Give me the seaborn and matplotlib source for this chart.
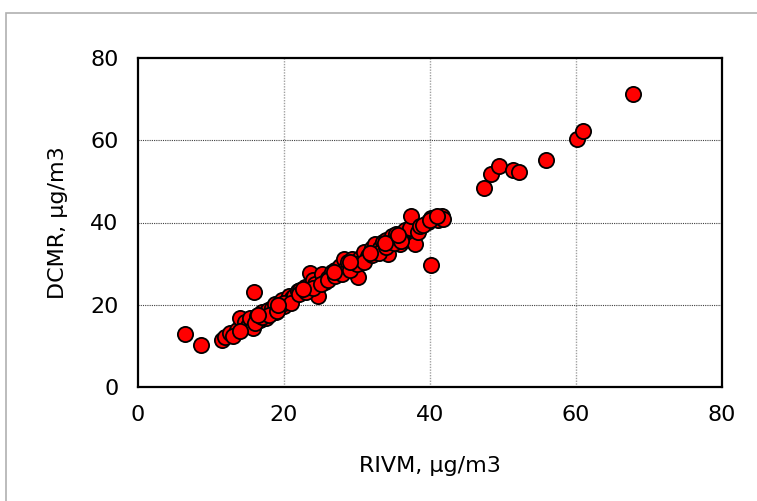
import matplotlib
matplotlib.use("Agg")
import matplotlib.pyplot as plt
from matplotlib.patches import Rectangle
import seaborn as sns
import pandas as pd

# RIVM vs DCMR readings (ug/m3)
rivm = [
    6.5, 8.6, 15.9, 40.1,
    11.5, 11.9, 12.6, 13.6, 14.0, 14.7, 15.1, 15.3, 15.8, 16.3, 16.7, 17.0,
    17.5, 17.8, 18.1, 18.4, 18.8, 18.9, 19.5, 19.7, 20.0, 20.4, 20.7, 21.1,
    21.4, 21.9, 22.2, 22.9, 23.6, 24.0, 24.2, 24.7, 25.2, 25.6, 26.0, 26.6,
    27.0, 27.7, 28.2, 28.5, 28.8, 29.3, 29.7, 30.2, 30.4, 31.0, 31.5, 32.1,
    32.5, 33.2, 33.6, 34.0, 34.2, 34.8, 35.3, 35.9, 36.2, 36.6, 37.3, 37.4,
    37.9, 38.4, 38.6, 39.7, 40.2, 41.1, 41.6, 41.8,
    13.0, 14.0, 16.0, 17.0, 18.0, 19.0, 20.0, 21.0, 22.0, 23.0, 24.0, 25.0,
    26.0, 27.0, 28.0, 29.0, 30.0, 31.0, 32.0, 33.0, 34.0, 35.0, 36.0, 39.0,
    40.0, 41.0,
    16.5, 19.2, 22.6, 26.8, 29.0, 31.8, 33.9, 35.6,
    47.4, 48.3, 49.4, 51.4, 52.2, 55.9, 60.2, 60.9, 67.8,
]
dcmr = [
    12.9, 10.2, 23.1, 29.6,
    11.4, 12.2, 13.1, 13.9, 16.8, 15.8, 14.8, 16.8, 14.3, 17.3, 16.3, 18.2,
    16.8, 18.7, 17.8, 19.2, 20.2, 18.2, 20.4, 21.2, 19.7, 20.9, 22.1, 21.6,
    22.1, 23.3, 23.6, 24.3, 27.7, 26.0, 25.0, 22.1, 27.5, 25.5, 26.5, 28.0,
    28.5, 29.4, 31.1, 28.9, 30.4, 31.1, 29.4, 26.8, 31.4, 32.8, 31.9, 33.8,
    34.8, 33.8, 35.3, 35.7, 32.3, 36.7, 37.2, 34.8, 36.7, 38.2, 38.7, 41.6,
    34.8, 37.7, 39.1, 40.1, 41.1, 40.6, 41.6, 40.8,
    12.5, 13.5, 15.5, 17.0, 17.5, 18.5, 20.5, 20.5, 22.5, 23.0, 24.0, 25.0,
    26.0, 27.0, 27.5, 28.5, 30.0, 30.5, 32.0, 32.5, 34.0, 35.0, 35.5, 39.5,
    40.5, 41.5,
    17.5, 20.0, 23.8, 27.9, 30.3, 32.6, 34.9, 36.9,
    48.3, 51.7, 53.8, 52.8, 52.4, 55.2, 60.2, 62.2, 71.2,
]
ticks = [0, 20, 40, 60, 80]

df = pd.DataFrame({"RIVM": rivm, "DCMR": dcmr})

sns.set_style("white")
plt.rcParams["font.family"] = ["DejaVu Sans"]
plt.rcParams["text.color"] = "black"
plt.rcParams["axes.labelcolor"] = "black"
plt.rcParams["xtick.color"] = "#808080"
plt.rcParams["ytick.color"] = "#808080"
plt.rcParams["xtick.labelcolor"] = "black"
plt.rcParams["ytick.labelcolor"] = "black"

fig = plt.figure(figsize=(7.57, 5.01), dpi=100)
ax = fig.add_axes([138 / 757, 1 - 387 / 501, (722 - 138) / 757, (387 - 58) / 501])

# outer chart frame (only left/top edges are inside the picture)
fig.add_artist(Rectangle((6 / 757, -0.1), 1.2, 1.1 - 12.5 / 501,
                         transform=fig.transFigure, fill=False,
                         edgecolor="#b0b0b0", linewidth=1.2))

sns.scatterplot(data=df, x="RIVM", y="DCMR", ax=ax, s=120, color="#ff0000",
                edgecolor="black", linewidth=1.3, zorder=3)

ax.set_xlim(0, 80)
ax.set_ylim(0, 80)
ax.set_xticks(ticks)
ax.set_yticks(ticks)
ax.tick_params(axis="x", direction="out", length=4, width=1, labelsize=16, pad=9)
ax.tick_params(axis="y", direction="out", length=4, width=1, labelsize=16, pad=10)

for x in ticks[1:-1]:
    ax.axvline(x, color="#a0a0a0", linestyle=(0, (1, 1)), linewidth=1.0, zorder=1)
for y in ticks[1:-1]:
    ax.axhline(y, color="#404040", linestyle=(0, (1, 1)), linewidth=0.8, zorder=1)

for sp in ax.spines.values():
    sp.set_visible(True)
    sp.set_color("black")
    sp.set_linewidth(1.6)

ax.set_xlabel("RIVM, µg/m3", fontsize=16, labelpad=22)
ax.set_ylabel("DCMR, µg/m3", fontsize=16, labelpad=16)

fig.savefig("out.png", dpi=100)
